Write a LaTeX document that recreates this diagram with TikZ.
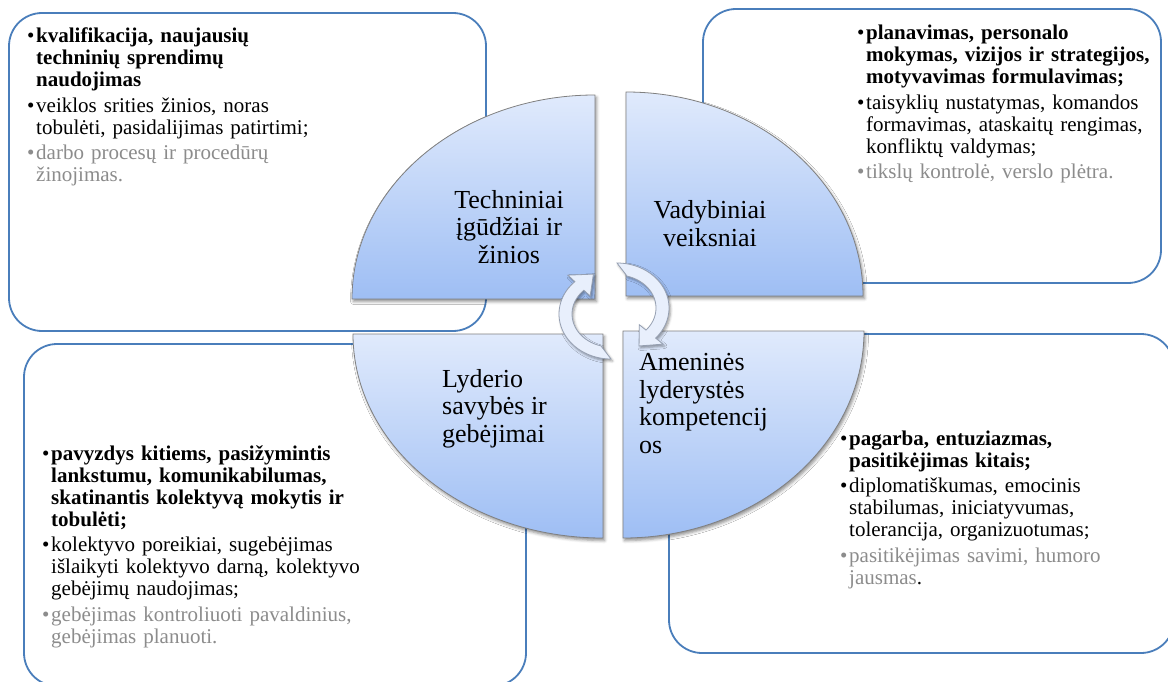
\documentclass[tikz,border=0pt]{standalone}
\usepackage{fontspec}
\setmainfont{Liberation Serif}
\usetikzlibrary{shadows.blur}

\definecolor{boxline}{RGB}{74,126,187}
\definecolor{quadtop}{RGB}{224,234,252}
\definecolor{quadbot}{RGB}{158,190,244}
\definecolor{quadline}{RGB}{128,128,128}
\definecolor{txtgray}{RGB}{140,140,140}
\definecolor{arrowfill}{RGB}{232,239,252}
\definecolor{arrowline}{RGB}{150,160,178}

% one bulleted paragraph: colour, text (lines split with \newline)
\newcommand\bitem[2]{\hangindent=9pt\hangafter=1\noindent
  \makebox[9pt][l]{\color{#1}\textbullet}{\color{#1}#2}\par}

\begin{document}
\begin{tikzpicture}[x=1pt,y=-1pt,
  infobox/.style={draw=boxline, line width=1.8pt, fill=white, rounded corners=33pt},
  quad/.style={draw=quadline, line width=0.8pt, top color=quadtop, bottom color=quadbot,
    blur shadow={shadow xshift=1.5pt, shadow yshift=-2.5pt, shadow blur radius=3pt, shadow opacity=45}},
  quadtext/.style={font=\fontsize{26}{27.5}\selectfont, inner sep=0pt},
  boxtext/.style={font=\fontsize{21}{22}\selectfont, text width=430pt, align=left,
    inner sep=0pt, anchor=base west, execute at begin node={\setlength{\parskip}{3.5pt}}},
  cyclearrow/.style={fill=arrowfill, draw=arrowline, line width=0.8pt,
    blur shadow={shadow xshift=1.5pt, shadow yshift=-2pt, shadow blur radius=2.5pt, shadow opacity=40}}]

\useasboundingbox (0,0) rectangle (1168,682);
\clip (0,0) rectangle (1168,682);

% outer information boxes
\draw[infobox] (9,13) rectangle (486,331);
\draw[infobox] (703,9) rectangle (1161,283);
\draw[infobox] (24,344) rectangle (526,686);
\draw[infobox] (669,334) rectangle (1174,653);

% four quarter-ellipse sectors
\path[quad] (595,299) -- (352,299) arc[start angle=180, end angle=90, x radius=243pt, y radius=204pt] -- cycle;
\path[quad] (626,296) -- (626,92) arc[start angle=90, end angle=0, x radius=237pt, y radius=204pt] -- cycle;
\path[quad] (623,331) -- (864,331) arc[start angle=0, end angle=-90, x radius=241pt, y radius=207pt] -- cycle;
\path[quad] (603,334) -- (603,538) arc[start angle=270, end angle=180, x radius=250pt, y radius=204pt] -- cycle;

% sector titles (placed by the baseline of their last line)
\node[quadtext, align=center, anchor=base] (tech) at (509,263) {Techniniai\\įgūdžiai ir\\žinios};
\node[quadtext, align=center, anchor=base] (vad) at (710,246) {Vadybiniai\\veiksniai};
\node[quadtext, align=left, anchor=base west] (lyd) at (442,442) {Lyderio\\savybės ir\\gebėjimai};
\node[quadtext, align=left, anchor=base west] (asm) at (639,453) {Ameninės\\lyderystės\\kompetencij\\os};

% bulleted lists
\node[boxtext] (techlist) at (27,43) {%
\bitem{black}{\textbf{kvalifikacija, naujausių}\newline\textbf{techninių sprendimų}\newline\textbf{naudojimas}}%
\bitem{black}{veiklos srities žinios, noras\newline tobulėti, pasidalijimas patirtimi;}%
\bitem{txtgray}{darbo procesų ir procedūrų\newline žinojimas.}};

\node[boxtext] (vadlist) at (857,40) {%
\bitem{black}{\textbf{planavimas, personalo}\newline\textbf{mokymas, vizijos ir strategijos,}\newline\textbf{motyvavimas formulavimas;}}%
\bitem{black}{taisyklių nustatymas, komandos\newline formavimas, ataskaitų rengimas,\newline konfliktų valdymas;}%
\bitem{txtgray}{tikslų kontrolė, verslo plėtra.}};

\node[boxtext] (lydlist) at (42,460) {%
\bitem{black}{\textbf{pavyzdys kitiems, pasižymintis}\newline\textbf{lankstumu, komunikabilumas,}\newline\textbf{skatinantis kolektyvą mokytis ir}\newline\textbf{tobulėti;}}%
\bitem{black}{kolektyvo poreikiai, sugebėjimas\newline išlaikyti kolektyvo darną, kolektyvo\newline gebėjimų naudojimas;}%
\bitem{txtgray}{gebėjimas kontroliuoti pavaldinius,\newline gebėjimas planuoti.}};

\node[boxtext] (asmlist) at (840,445) {%
\bitem{black}{\textbf{pagarba, entuziazmas,}\newline\textbf{pasitikėjimas kitais;}}%
\bitem{black}{diplomatiškumas, emocinis\newline stabilumas, iniciatyvumas,\newline tolerancija, organizuotumas;}%
\bitem{txtgray}{pasitikėjimas savimi, humoro\newline jausmas\textcolor{black}{.}}};

% two circular arrows in the middle
\path[cyclearrow]
  plot[domain=270:134, samples=40, variable=\t] ({611+52*cos(\t)},{314-45*sin(\t)})
  -- ({611+62*cos(134)},{314-54*sin(134)})
  -- ({611+47*cos(112)},{314-43*sin(112)})
  -- ({611+30*cos(134)},{314-25*sin(134)})
  -- plot[domain=134:255, samples=40, variable=\t] ({611+39*cos(\t)},{314-33*sin(\t)})
  -- cycle;
\path[cyclearrow]
  plot[domain=90:-42, samples=40, variable=\t] ({617+52*cos(\t)},{308-45*sin(\t)})
  -- ({617+62*cos(-42)},{308-54*sin(-42)})
  -- ({617+47*cos(-62)},{308-43*sin(-62)})
  -- ({617+30*cos(-42)},{308-25*sin(-42)})
  -- plot[domain=-42:75, samples=40, variable=\t] ({617+39*cos(\t)},{308-33*sin(\t)})
  -- cycle;
\end{tikzpicture}
\end{document}
